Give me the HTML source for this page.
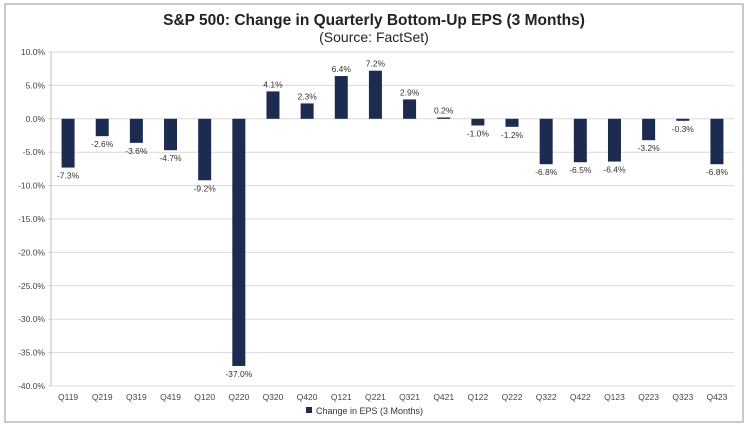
<!DOCTYPE html>
<html><head><meta charset="utf-8"><style>
body{margin:0;background:#fff;}
svg{display:block;font-family:"Liberation Sans",Arial,sans-serif;}
</style></head><body>
<svg width="749" height="431">
<rect x="5" y="4" width="738" height="418" fill="#fff" stroke="#a6a6a6" stroke-width="1.2"/>
<text x="374" y="25" text-anchor="middle" font-size="15.5" font-weight="bold" fill="#222">S&amp;P 500: Change in Quarterly Bottom-Up EPS (3 Months)</text>
<text x="374" y="42" text-anchor="middle" font-size="14" fill="#222">(Source: FactSet)</text>
<g id="grid"></g><g id="bars"></g><g id="labels"></g>
<rect x="306" y="407" width="6" height="6" fill="#1c2b4f"/>
<text x="316" y="414" font-size="9" fill="#333">Change in EPS (3 Months)</text>
</svg>
<script>
const categories=["Q119","Q219","Q319","Q419","Q120","Q220","Q320","Q420","Q121","Q221","Q321","Q421","Q122","Q222","Q322","Q422","Q123","Q223","Q323","Q423"];
const values=[-7.3,-2.6,-3.6,-4.7,-9.2,-37.0,4.1,2.3,6.4,7.2,2.9,0.2,-1.0,-1.2,-6.8,-6.5,-6.4,-3.2,-0.3,-6.8];
const ticks=[10,5,0,-5,-10,-15,-20,-25,-30,-35,-40];
const NS="http://www.w3.org/2000/svg";
const x0=51,x1=734,yTop=52,yBot=386,vMax=10,vMin=-40;
const y=v=>yTop+(vMax-v)/(vMax-vMin)*(yBot-yTop);
const step=(x1-x0)/categories.length;
const xc=i=>x0+step*(i+0.5);
function mk(tag,attrs,parent){const e=document.createElementNS(NS,tag);for(const k in attrs)e.setAttribute(k,attrs[k]);parent.appendChild(e);return e;}
const grid=document.getElementById('grid'),bars=document.getElementById('bars'),labels=document.getElementById('labels');
ticks.forEach(t=>{
 const l=mk('line',{x1:x0-3,x2:x1,y1:y(t),y2:y(t),stroke:'#d9d9d9','stroke-width':1},grid);
 
 
 const tx=mk('text',{x:x0-6,y:y(t)+3,'text-anchor':'end','font-size':8.5,fill:'#444'},grid);
 tx.textContent=t.toFixed(1)+'%';
 
 
});
const ax=mk('line',{x1:x0,x2:x0,y1:yTop,y2:yBot,stroke:'#bfbfbf'},grid);


categories.forEach((c,i)=>{
 const v=values[i],w=13;
 const top=Math.min(y(v),y(0)),h=Math.abs(y(v)-y(0));
 const r=mk('rect',{x:xc(i)-w/2,y:top,width:w,height:Math.max(h,0.8),fill:'#1c2b4f'},bars);
 
 
 const lt=mk('text',{x:xc(i),y:v>=0?y(v)-4:y(v)+11,'text-anchor':'middle','font-size':8.5,fill:'#333'},labels);
 lt.textContent=v.toFixed(1)+'%';
 
 
 const xt=mk('text',{x:xc(i),y:400,'text-anchor':'middle','font-size':8.5,fill:'#444'},labels);
 xt.textContent=c;
 
 
});
</script>
</body></html>
